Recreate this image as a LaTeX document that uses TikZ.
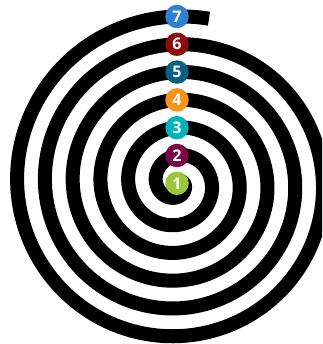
\documentclass[tikz,border=0pt]{standalone}
\usepackage{fontspec}
\setmainfont{Open Sans}
\definecolor{cone}{HTML}{9DC63D}
\definecolor{ctwo}{HTML}{7A0848}
\definecolor{cthree}{HTML}{00B3BE}
\definecolor{cfour}{HTML}{F7941E}
\definecolor{cfive}{HTML}{0B5F82}
\definecolor{csix}{HTML}{8E0B0E}
\definecolor{cseven}{HTML}{2F80CF}
\begin{document}
\begin{tikzpicture}[x=1pt,y=1pt,
  spiralline/.style={line width=14pt, black},
  badge/.style={circle, inner sep=0pt, minimum size=23.5pt, text=white,
    font=\fontsize{16}{16}\selectfont\bfseries}]
\useasboundingbox (0,0) rectangle (322,344);
\clip (0,0) rectangle (322,344);
\draw[spiralline] plot[domain=0:2171, samples=900, variable=\a, smooth]
  ({177 + 0.077222*\a*cos(90-\a)}, {160.7 + 0.077222*\a*sin(90-\a)});
\foreach \k/\c in {1/cone,2/ctwo,3/cthree,4/cfour,5/cfive,6/csix,7/cseven}{
  \node[badge, fill=\c] (c\k) at (177, {160.7+27.8*(\k-1)}) {\k};
}
\end{tikzpicture}
\end{document}
